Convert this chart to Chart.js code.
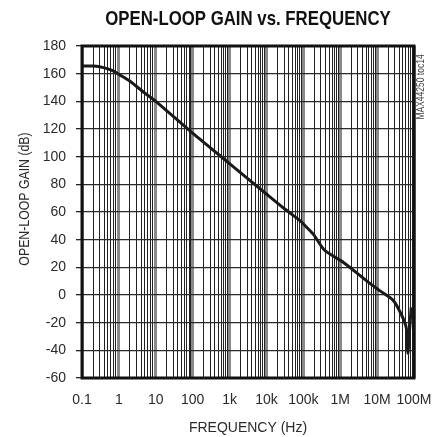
<!DOCTYPE html>
<html>
<head>
<meta charset="utf-8">
<script src="https://cdn.jsdelivr.net/npm/chart.js@4/dist/chart.umd.min.js"></script>
<style>
  html, body { margin: 0; padding: 0; background: #fff; }
  #wrap { width: 433px; height: 437px; }
</style>
</head>
<body>
<div id="wrap"><canvas id="gainChart" width="433" height="437"></canvas></div>
<script>
const frequencyHz = [0.1, 0.2, 0.3, 0.5, 0.7, 1, 2, 5, 10, 100, 1e3, 1e4, 3.2e4, 8.2e4, 1.01e5,
                     1.86e5, 2.34e5, 3.9e5, 1.23e6, 5.3e6, 1.2e7, 2.75e7, 4.7e7, 6.2e7, 6.8e7, 7.6e7, 8.4e7];
const openLoopGainDb = [165.5, 165.5, 165, 163.5, 162, 159.5, 154.5, 146, 140, 117, 95, 73, 62, 53.7, 51.3,
                        44, 40, 32, 23.5, 10, 3, -4, -15, -24, -42, -25, -9];
const decadeLabels = ['0.1', '1', '10', '100', '1k', '10k', '100k', '1M', '10M', '100M'];
const yTicks = [-60, -40, -20, 0, 20, 40, 60, 80, 100, 120, 140, 160, 180];

const FONT = "'Liberation Sans', Arial, sans-serif";
const TEXT = '#2a2a2a';

// draws condensed text (no narrow face is installed)
function narrowText(ctx, text, x, y, font, color, sx, angle) {
    ctx.save();
    ctx.translate(x, y);
    if (angle) ctx.rotate(angle);
    ctx.scale(sx, 1);
    ctx.fillStyle = color;
    ctx.font = font;
    ctx.textAlign = 'center';
    ctx.textBaseline = 'middle';
    ctx.fillText(text, 0, 0);
    ctx.restore();
}

const frame = {
    id: 'frame',
    afterDraw(chart) {
        const { ctx, chartArea: a } = chart;
        ctx.save();
        ctx.strokeStyle = '#111';
        ctx.lineWidth = 3;
        ctx.strokeRect(a.left, a.top, a.right - a.left, a.bottom - a.top);
        ctx.restore();

        narrowText(ctx, 'OPEN-LOOP GAIN vs. FREQUENCY', (a.left + a.right) / 2, 19,
                   `bold 21px ${FONT}`, '#111', 0.8, 0);
        narrowText(ctx, 'OPEN-LOOP GAIN (dB)', 25, 199, `15px ${FONT}`, TEXT, 0.82, -Math.PI / 2);
        narrowText(ctx, 'MAX44250 toc14', a.right + 7, a.top + 41, `10px ${FONT}`, '#444', 0.85, -Math.PI / 2);
    }
};

function isDecade(v) {
    const l = Math.log10(v);
    return Math.abs(l - Math.round(l)) < 1e-6;
}

new Chart(document.getElementById('gainChart').getContext('2d'), {
    type: 'line',
    data: {
        datasets: [{
            data: frequencyHz.map((f, i) => ({ x: f, y: openLoopGainDb[i] })),
            borderColor: '#1a1a1a',
            borderWidth: 3,
            pointRadius: 0,
            tension: 0.25,
            fill: false
        }]
    },
    options: {
        responsive: false,
        animation: false,
        layout: { padding: { left: 0, right: 19, top: 46, bottom: 0 } },
        plugins: {
            legend: { display: false },
            tooltip: { enabled: false }
        },
        scales: {
            x: {
                type: 'logarithmic',
                min: 0.1,
                max: 1e8,
                afterBuildTicks(scale) {
                    const ticks = [];
                    for (let e = -1; e < 8; e++) {
                        for (let m = 1; m <= 9; m++) ticks.push({ value: m * Math.pow(10, e) });
                    }
                    ticks.push({ value: 1e8 });
                    scale.ticks = ticks;
                },
                afterFit(scale) {
                    scale.height = 59;
                    scale.paddingLeft = 0;
                    scale.paddingRight = 0;
                },
                grid: {
                    drawTicks: false,
                    color: ctx => isDecade(ctx.tick.value) ? '#8a8a8a' : '#222',
                    lineWidth: ctx => isDecade(ctx.tick.value) ? 3 : 1
                },
                border: { display: false },
                ticks: {
                    autoSkip: false,
                    maxRotation: 0,
                    padding: 14,
                    color: TEXT,
                    font: { family: FONT, size: 14 },
                    callback(value) {
                        if (!isDecade(value)) return '';
                        return decadeLabels[Math.round(Math.log10(value)) + 1];
                    }
                },
                title: {
                    display: true,
                    text: 'FREQUENCY (Hz)',
                    color: TEXT,
                    font: { family: FONT, size: 14 },
                    padding: { top: 4, bottom: 0 }
                }
            },
            y: {
                min: -60,
                max: 180,
                afterBuildTicks(scale) { scale.ticks = yTicks.map(v => ({ value: v })); },
                afterFit(scale) {
                    scale.width = 82;
                    scale.paddingTop = 0;
                    scale.paddingBottom = 0;
                },
                grid: {
                    color: '#2a2a2a',
                    lineWidth: 1.3,
                    tickLength: 6,
                    tickColor: '#222'
                },
                border: { display: false },
                ticks: {
                    padding: 10,
                    color: TEXT,
                    font: { family: FONT, size: 14 }
                }
            }
        }
    },
    plugins: [frame]
});
</script>
</body>
</html>
